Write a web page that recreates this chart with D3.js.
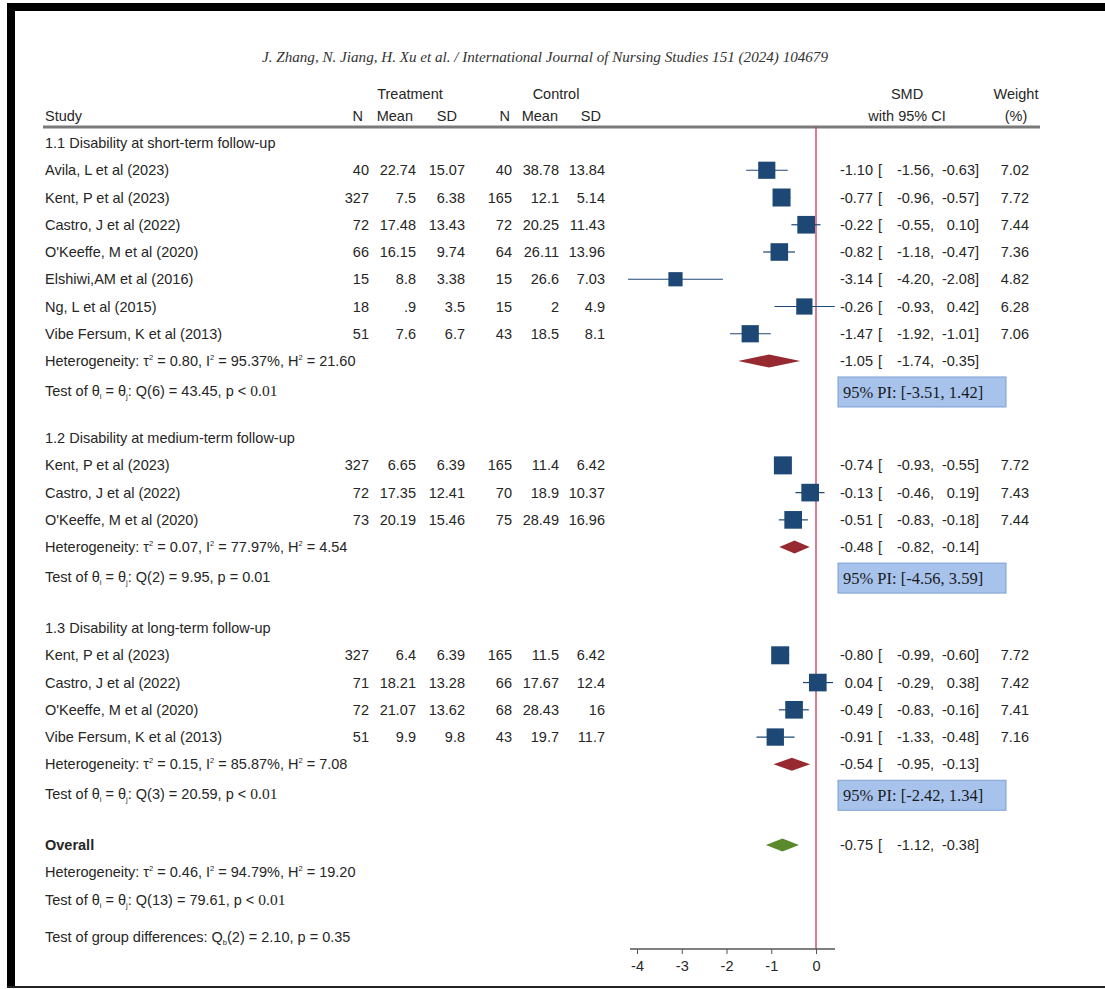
<!DOCTYPE html>
<html lang="en">
<head>
<meta charset="UTF-8">
<title>Forest plot - disability</title>
<script src="https://d3js.org/d3.v7.min.js"></script>
<style>
  body { margin: 0; background: #fff; }
  svg text { font-family: "Liberation Sans", Arial, sans-serif; font-size: 14.5px; fill: #262626; }
</style>
</head>
<body>
<div id="chart"></div>
<script>
// ---- data ----
const sections = ["1.1 Disability at short-term follow-up",
                  "1.2 Disability at medium-term follow-up",
                  "1.3 Disability at long-term follow-up"];
const sectionStart = [0, 10.83, 17.8];   // row slots

const studySection = [0,0,0,0,0,0,0, 1,1,1, 2,2,2,2];
const studyNames = ["Avila, L et al (2023)", "Kent, P et al (2023)", "Castro, J et al (2022)",
  "O'Keeffe, M et al (2020)", "Elshiwi,AM et al (2016)", "Ng, L et al (2015)", "Vibe Fersum, K et al (2013)",
  "Kent, P et al (2023)", "Castro, J et al (2022)", "O'Keeffe, M et al (2020)",
  "Kent, P et al (2023)", "Castro, J et al (2022)", "O'Keeffe, M et al (2020)", "Vibe Fersum, K et al (2013)"];
const treatN    = ["40","327","72","66","15","18","51", "327","72","73", "327","71","72","51"];
const treatMean = ["22.74","7.5","17.48","16.15","8.8",".9","7.6", "6.65","17.35","20.19", "6.4","18.21","21.07","9.9"];
const treatSD   = ["15.07","6.38","13.43","9.74","3.38","3.5","6.7", "6.39","12.41","15.46", "6.39","13.28","13.62","9.8"];
const ctrlN     = ["40","165","72","64","15","15","43", "165","70","75", "165","66","68","43"];
const ctrlMean  = ["38.78","12.1","20.25","26.11","26.6","2","18.5", "11.4","18.9","28.49", "11.5","17.67","28.43","19.7"];
const ctrlSD    = ["13.84","5.14","11.43","13.96","7.03","4.9","8.1", "6.42","10.37","16.96", "6.42","12.4","16","11.7"];
const smd    = [-1.10,-0.77,-0.22,-0.82,-3.14,-0.26,-1.47, -0.74,-0.13,-0.51, -0.80,0.04,-0.49,-0.91];
const ciLo   = [-1.56,-0.96,-0.55,-1.18,-4.20,-0.93,-1.92, -0.93,-0.46,-0.83, -0.99,-0.29,-0.83,-1.33];
const ciHi   = [-0.63,-0.57,0.10,-0.47,-2.08,0.42,-1.01, -0.55,0.19,-0.18, -0.60,0.38,-0.16,-0.48];
const weight = [7.02,7.72,7.44,7.36,4.82,6.28,7.06, 7.72,7.43,7.44, 7.72,7.42,7.41,7.16];

const poolEst = [-1.05,-0.48,-0.54], poolLo = [-1.74,-0.82,-0.95], poolHi = [-0.35,-0.14,-0.13];
const tau2 = ["0.80","0.07","0.15"], i2 = ["95.37","77.97","85.87"], h2 = ["21.60","4.54","7.08"];
const qDf = ["6","2","3"], qVal = ["43.45","9.95","20.59"];
const pSign = ["<","=","<"], pVal = ["0.01","0.01","0.01"];
const piText = ["95% PI: [-3.51, 1.42]", "95% PI: [-4.56, 3.59]", "95% PI: [-2.42, 1.34]"];

const overall = {est: -0.75, lo: -1.12, hi: -0.38, tau2: "0.46", i2: "94.79", h2: "19.20", df: "13", q: "79.61"};
const groupTest = {df: "2", q: "2.10", p: "0.35"};
const xTicks = [-4, -3, -2, -1, 0];

// ---- layout ----
const W = 1105, H = 989;
const svg = d3.select("#chart").append("svg").attr("width", W).attr("height", H);

const x = d3.scaleLinear().domain([-4, 0]).range([637, 816]);
const row = d3.scaleLinear().domain([0, 1]).range([143, 170.25]);
const side = d3.scaleSqrt().domain([0, 7.72]).range([0, 18]);
const fmt = d3.format(".2f");
const fmtS = v => fmt(v).replace("−", "-");

const col = {study: 45, tN: 369, tMean: 416, tSD: 465, cN: 512, cMean: 559, cSD: 605,
             est: 873, brk: 878, lo: 934, hi: 979, wt: 1029};

// frame
svg.append("rect").attr("x", 7).attr("y", 3).attr("width", W - 7).attr("height", 8).attr("fill", "#000");
svg.append("rect").attr("x", 7).attr("y", 3).attr("width", 8).attr("height", 984).attr("fill", "#000");
svg.append("rect").attr("x", 7).attr("y", 986).attr("width", W - 7).attr("height", 2).attr("fill", "#222");

// journal line
svg.append("text").attr("x", 545).attr("y", 62).attr("text-anchor", "middle")
  .style("font-family", "'Liberation Serif', serif").style("font-style", "italic")
  .style("font-size", "15.5px").style("fill", "#333")
  .attr("textLength", 566).attr("lengthAdjust", "spacingAndGlyphs")
  .text("J. Zhang, N. Jiang, H. Xu et al. / International Journal of Nursing Studies 151 (2024) 104679");

// headers
const hdr = [["Treatment", 410, 99, "middle"], ["Control", 556, 99, "middle"],
  ["SMD", 907, 99, "middle"], ["Weight", 1016, 99, "middle"],
  ["Study", 45, 121, "start"], ["N", 363, 121, "end"], ["Mean", 413, 121, "end"], ["SD", 457, 121, "end"],
  ["N", 510, 121, "end"], ["Mean", 558, 121, "end"], ["SD", 601, 121, "end"],
  ["with 95% CI", 907, 121, "middle"], ["(%)", 1016, 121, "middle"]];
svg.selectAll(".hdr").data(hdr).enter().append("text")
  .attr("x", d => d[1]).attr("y", d => d[2]).attr("text-anchor", d => d[3]).text(d => d[0]);
svg.append("line").attr("x1", 43).attr("x2", 1040).attr("y1", 127).attr("y2", 127)
  .attr("stroke", "#7a7a7a").attr("stroke-width", 3);

// rich text helper: parts [text, kind]
function rich(xp, yp, parts, bold) {
  const t = svg.append("text").attr("x", xp).attr("y", yp);
  if (bold) t.style("font-weight", "bold");
  let shift = 0;
  parts.forEach(([s, k]) => {
    const sp = t.append("tspan").text(s);
    let target = 0;
    if (k === "sup") { target = -6; sp.style("font-size", "7.5px"); }
    if (k === "sub") { target = 3; sp.style("font-size", "7.5px"); }
    if (k === "serif") sp.style("font-family", "'Liberation Serif', serif").style("font-size", "15.5px");
    if (target !== shift) { sp.attr("dy", target - shift); shift = target; }
  });
  return t;
}
function hetParts(t, i, h) {
  return [["Heterogeneity: τ"], ["2", "sup"], [" = " + t + ", I"], ["2", "sup"],
          [" = " + i + "%, H"], ["2", "sup"], [" = " + h]];
}
function testParts(df, q, sign, p, serif) {
  const parts = [["Test of θ"], ["i", "sub"], [" = θ"], ["j", "sub"], [": Q(" + df + ") = " + q + ", p " + sign + " "]];
  parts.push(serif ? [p, "serif"] : [p]);
  return parts;
}
function ciText(yc, est, lo, hi) {
  const yb = yc + 5;
  svg.append("text").attr("x", col.est).attr("y", yb).attr("text-anchor", "end").text(fmtS(est));
  svg.append("text").attr("x", col.brk).attr("y", yb).text("[");
  svg.append("text").attr("x", col.lo).attr("y", yb).attr("text-anchor", "end").text(fmtS(lo) + ",");
  svg.append("text").attr("x", col.hi).attr("y", yb).attr("text-anchor", "end").text(fmtS(hi) + "]");
}
function diamond(yc, est, lo, hi, color) {
  const pts = [[x(lo), yc], [x(est), yc - 6.5], [x(hi), yc], [x(est), yc + 6.5]];
  svg.append("path").attr("d", d3.line()(pts) + "Z").attr("fill", color);
}

// studies, row index within each section
const studyRow = studyNames.map((_, i) => {
  const s = studySection[i];
  const k = studySection.slice(0, i).filter(v => v === s).length;
  return sectionStart[s] + 1 + k;
});

// reference line at 0 (drawn first, marks above)
svg.append("line").attr("x1", x(0)).attr("x2", x(0)).attr("y1", 127).attr("y2", 949)
  .attr("stroke", "#c8385a").attr("stroke-width", 1.3);

sections.forEach((name, s) => {
  const r0 = sectionStart[s];
  const n = studySection.filter(v => v === s).length;
  svg.append("text").attr("x", col.study).attr("y", row(r0) + 5).text(name);
  const yh = row(r0 + n + 1), yt = row(r0 + n + 2.1);
  rich(col.study, yh + 5, hetParts(tau2[s], i2[s], h2[s]));
  rich(col.study, yt + 5, testParts(qDf[s], qVal[s], pSign[s], pVal[s], pSign[s] === "<"));
  diamond(yh, poolEst[s], poolLo[s], poolHi[s], "#962a30");
  ciText(yh, poolEst[s], poolLo[s], poolHi[s]);
  // prediction interval box
  svg.append("rect").attr("x", 838).attr("y", yt - 14).attr("width", 168).attr("height", 30)
    .attr("fill", "#a7c3ec").attr("stroke", "#7f9fd0").attr("stroke-width", 1);
  svg.append("text").attr("x", 843).attr("y", yt + 7)
    .style("font-family", "'Liberation Serif', serif").style("font-size", "16.5px").style("fill", "#1a1a1a")
    .text(piText[s]);
});

const g = svg.append("g");
studyNames.forEach((name, i) => {
  const yc = row(studyRow[i]), yb = yc + 5;
  g.append("text").attr("x", col.study).attr("y", yb).text(name);
  [[treatN, "tN"], [treatMean, "tMean"], [treatSD, "tSD"], [ctrlN, "cN"], [ctrlMean, "cMean"], [ctrlSD, "cSD"]]
    .forEach(([arr, c]) => g.append("text").attr("x", col[c]).attr("y", yb).attr("text-anchor", "end").text(arr[i]));
  g.append("line").attr("x1", x(ciLo[i])).attr("x2", x(ciHi[i])).attr("y1", yc).attr("y2", yc)
    .attr("stroke", "#1d4876").attr("stroke-width", 1.2);
  const sd = side(weight[i]);
  g.append("rect").attr("x", x(smd[i]) - sd / 2).attr("y", yc - sd / 2).attr("width", sd).attr("height", sd)
    .attr("fill", "#1d4876");
  ciText(yc, smd[i], ciLo[i], ciHi[i]);
  g.append("text").attr("x", col.wt).attr("y", yb).attr("text-anchor", "end").text(fmt(weight[i]));
});

// overall
const rO = 25.76;
svg.append("text").attr("x", col.study).attr("y", row(rO) + 5).style("font-weight", "bold").text("Overall");
diamond(row(rO), overall.est, overall.lo, overall.hi, "#5a8a2c");
ciText(row(rO), overall.est, overall.lo, overall.hi);
rich(col.study, row(rO + 1) + 5, hetParts(overall.tau2, overall.i2, overall.h2));
rich(col.study, row(rO + 2.02) + 5, testParts(overall.df, overall.q, "<", "0.01", true));
rich(col.study, row(rO + 3.38) + 5, [["Test of group differences: Q"], ["b", "sub"],
  ["(" + groupTest.df + ") = " + groupTest.q + ", p = " + groupTest.p]]);

// axis
const axis = svg.append("g").attr("transform", "translate(0,949)")
  .call(d3.axisBottom(x).tickValues(xTicks).tickSize(5).tickPadding(7).tickFormat(d3.format("d")));
axis.select(".domain").attr("d", "M630,0H835").attr("stroke", "#555").attr("stroke-width", 1.3);
axis.selectAll(".tick line").attr("stroke", "#555");
axis.selectAll(".tick text").style("font-size", "14.5px").style("fill", "#262626")
  .style("font-family", "'Liberation Sans', Arial, sans-serif")
  .text(d => String(d).replace("−", "-"));
</script>
</body>
</html>
